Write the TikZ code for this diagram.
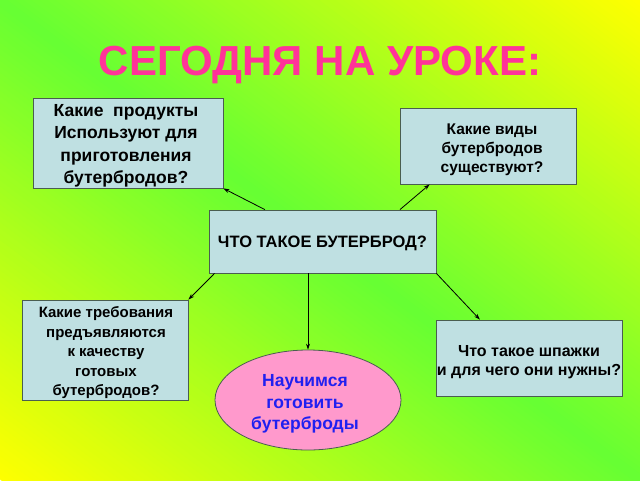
\documentclass[tikz,border=0pt]{standalone}
\usepackage{fontspec}
\setmainfont{Liberation Sans}
\usetikzlibrary{shapes.geometric,arrows.meta,calc}
\definecolor{gbg}{HTML}{66FF33}
\definecolor{ybg}{HTML}{FFFF00}
\definecolor{titlepink}{HTML}{FF3399}
\definecolor{boxfill}{HTML}{BFE0E2}
\definecolor{boxline}{HTML}{4A5E50}
\definecolor{ellfill}{HTML}{FF99CC}
\definecolor{elltext}{HTML}{2020F0}
\tikzset{
  qbox/.style={draw=boxline, fill=boxfill, line width=0.8pt, inner sep=0pt},
  qtext/.style={inner sep=0pt, align=center},
  goal/.style={ellipse, draw=boxline, fill=ellfill, line width=0.8pt, inner sep=0pt},
  arr/.style={draw=black, line width=0.8pt, -{Stealth[length=6pt,width=4pt]}}
}
\begin{document}
\begin{tikzpicture}[x=1pt,y=-1pt]
\useasboundingbox (0,0) rectangle (640,480);
\begin{scope}
\clip (0,0) rectangle (640,480);
\foreach \i in {0,...,159}{
  \pgfmathsetmacro\sa{-1+\i/80}
  \pgfmathsetmacro\sb{\sa+1/80+0.003}
  \pgfmathsetmacro\p{abs(\sa+1/160)*100}
  \fill[ybg!\p!gbg] ({640*\sa-14},-10) -- ({640*\sa+654},490) -- ({640*\sb+654},490) -- ({640*\sb-14},-10) -- cycle;
}
\end{scope}

\node[font=\bfseries\fontsize{42}{42}\selectfont, text=titlepink] (title) at (320,65) {СЕГОДНЯ НА УРОКЕ:};

\node[qbox, minimum width=190pt, minimum height=90pt] (b1) at (128,143) {};
\node[qtext, font=\bfseries\fontsize{17.5}{22.5}\selectfont] (t1) at (126,146)
  {Какие\ \ продукты\\Используют для\\приготовления\\бутербродов?};

\node[qbox, minimum width=176pt, minimum height=76pt] (b2) at (488,146) {};
\node[qtext, font=\bfseries\fontsize{15.5}{19}\selectfont] (t2) at (492,150)
  {Какие виды\\бутербродов\\существуют?};

\node[qbox, minimum width=227pt, minimum height=63pt] (c) at (322.5,241.5) {};
\node[qtext, font=\bfseries\fontsize{16.5}{19}\selectfont] (tc) at (322.5,243)
  {ЧТО ТАКОЕ БУТЕРБРОД?};

\node[qbox, minimum width=166pt, minimum height=100pt] (b4) at (105,350) {};
\node[qtext, font=\bfseries\fontsize{15}{19.5}\selectfont] (t4) at (106,353)
  {Какие требования\\предъявляются\\к качеству\\готовых\\бутербродов?};

\node[qbox, minimum width=186pt, minimum height=76pt] (b5) at (529,358) {};
\node[qtext, font=\bfseries\fontsize{16}{19}\selectfont] (t5) at (529,362)
  {Что такое шпажки\\и для чего они нужны?};

\node[goal, minimum width=186pt, minimum height=100pt] (e) at (308,400) {};
\node[qtext, text=elltext, font=\bfseries\fontsize{17.5}{21.5}\selectfont] (te) at (305,404)
  {Научимся\\готовить\\бутерброды};

\draw[arr] ($(c.north west)!0.247!(c.north east)$) -- (b1.south east);
\draw[arr] ($(c.north west)!0.84!(c.north east)$) -- ($(b2.south west)!0.17!(b2.south east)$);
\draw[arr] ($(c.south west)!0.026!(c.south east)$) -- (b4.north east);
\draw[arr] (c.south east) -- ($(b5.north west)!0.237!(b5.north east)$);
\draw[arr] (e.north |- c.south) -- (e.north);
\end{tikzpicture}
\end{document}
